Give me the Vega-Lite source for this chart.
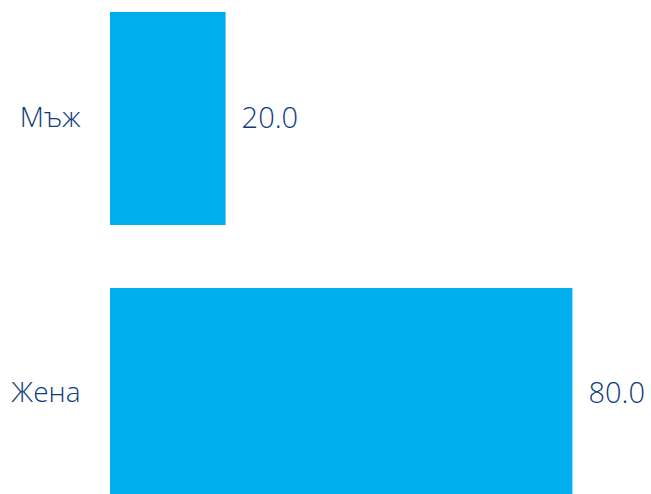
{
  "$schema": "https://vega.github.io/schema/vega-lite/v6.json",
  "autosize": "none",
  "padding": {"left": 110, "top": 0, "right": 0, "bottom": 0},
  "width": 578,
  "height": 513,
  "data": {"values": [{"sex": "Мъж", "value": 20.0}, {"sex": "Жена", "value": 80.0}]},
  "config": {"view": {"stroke": null}, "font": "Open Sans"},
  "encoding": {
    "y": {"field": "sex", "type": "nominal", "sort": null,
      "scale": {"paddingInner": 0.228, "paddingOuter": 0.0435},
      "axis": {"title": null, "domain": false, "ticks": false, "labelFontSize": 28, "labelFontWeight": 300, "labelColor": "#0f3c7c", "labelPadding": 30, "labelFont": "Open Sans"}},
    "x": {"field": "value", "type": "quantitative", "scale": {"domain": [0, 100], "nice": false}, "axis": null}
  },
  "layer": [
    {"mark": {"type": "bar", "color": "#00aeef"}},
    {"mark": {"type": "text", "align": "left", "baseline": "middle", "dx": 16, "fontSize": 29, "fontWeight": 300, "color": "#0f3c7c", "font": "Open Sans"},
     "encoding": {"text": {"field": "value", "type": "quantitative", "format": ".1f"}}}
  ]
}
